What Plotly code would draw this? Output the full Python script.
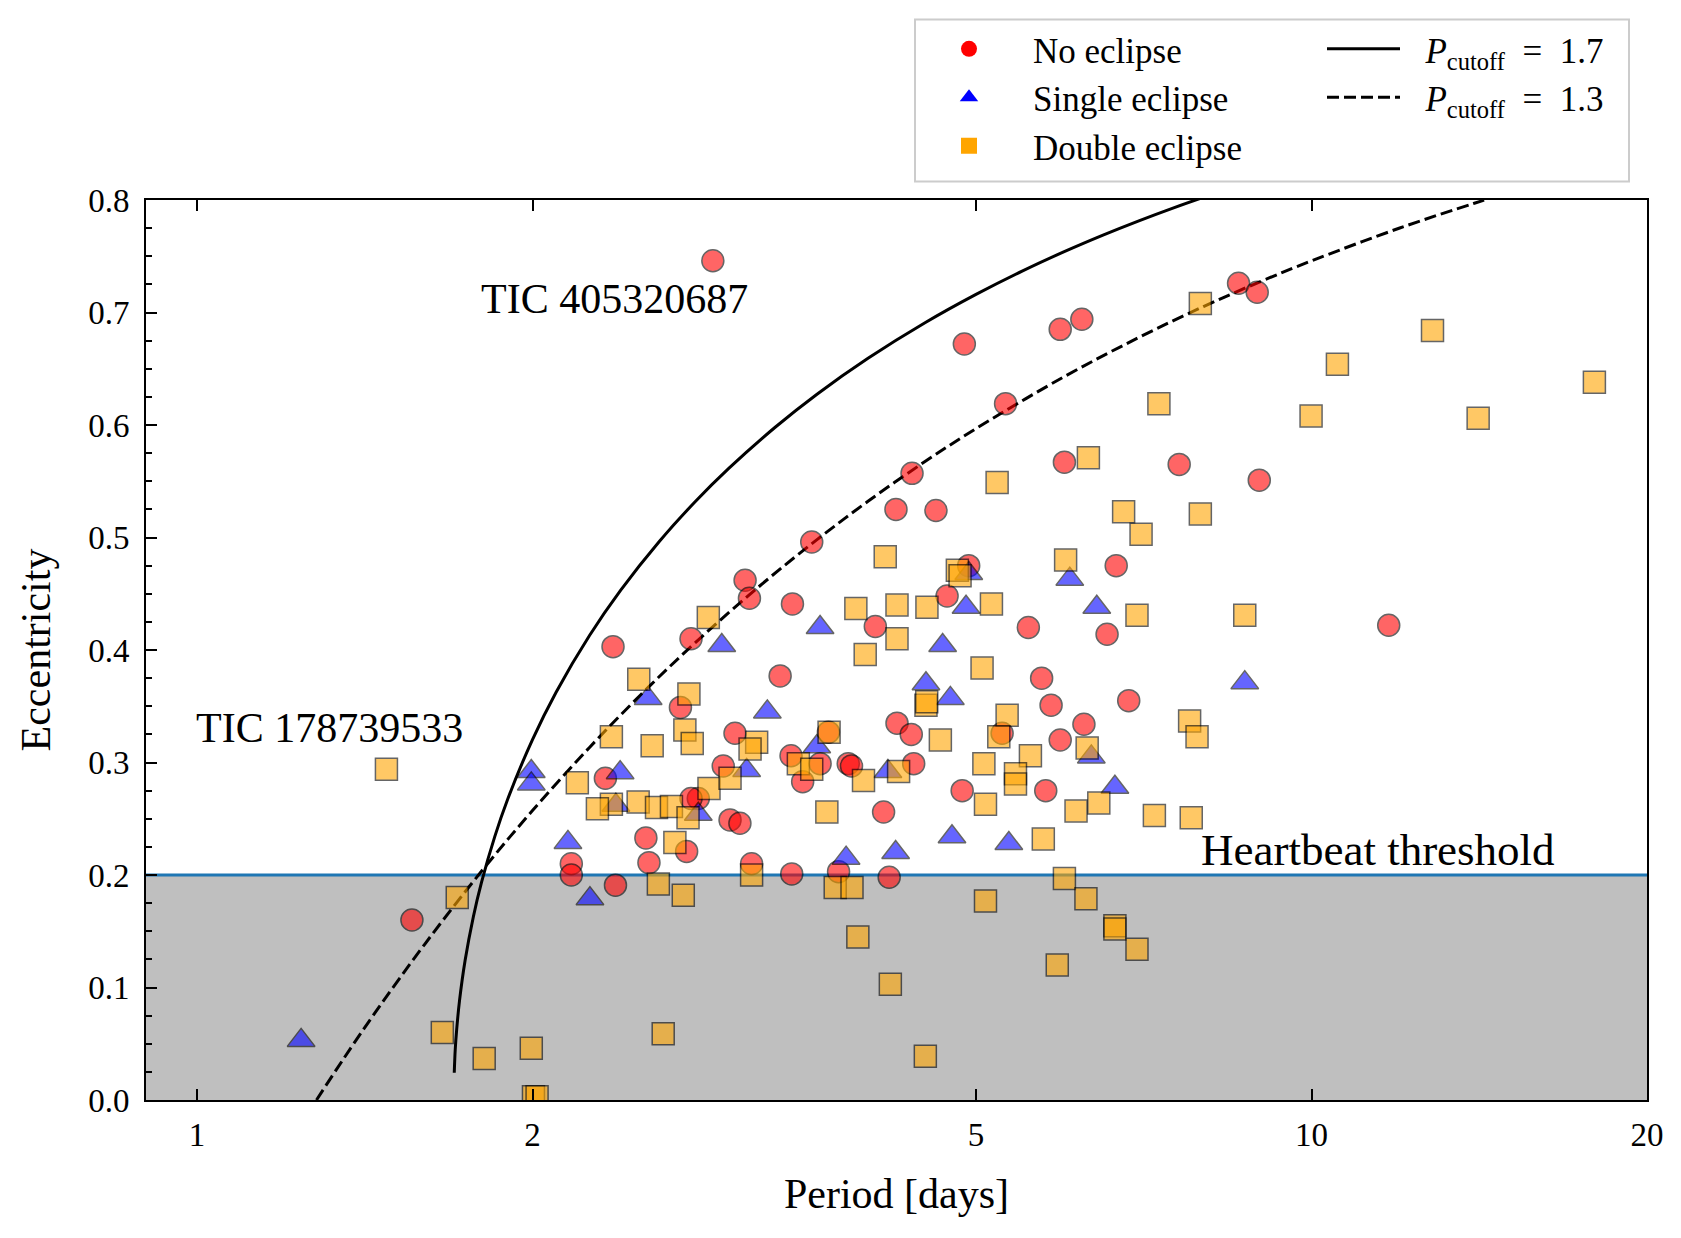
import math
import plotly.graph_objects as go

# ---------------- data ----------------
period_none = [2.903, 8.601, 8.939, 6.222, 5.950, 4.881, 5.315, 6.002, 7.608, 4.381,
               8.977, 4.238, 4.603, 3.561, 4.925, 6.680, 3.103, 3.131, 4.710, 3.422,
               4.061, 11.73, 5.571, 6.555, 2.775, 2.362, 3.336, 5.726, 5.839, 6.855,
               2.715, 6.249, 4.247, 3.039, 5.277, 4.374, 5.950, 3.686, 3.412, 3.623,
               3.840, 3.866, 4.396, 2.966, 2.325, 3.495, 2.817, 2.775, 5.775, 4.859,
               3.008, 3.070, 4.131, 2.528, 2.750, 2.544, 2.167, 2.167, 3.145, 3.417,
               3.764, 4.179, 2.374, 1.559]
ecc_none = [0.746, 0.726, 0.718, 0.694, 0.685, 0.672, 0.619, 0.567, 0.565, 0.557,
            0.551, 0.525, 0.524, 0.496, 0.475, 0.475, 0.462, 0.446, 0.448, 0.441,
            0.421, 0.422, 0.420, 0.414, 0.410, 0.403, 0.377, 0.375, 0.351, 0.355,
            0.349, 0.334, 0.335, 0.326, 0.326, 0.325, 0.320, 0.327, 0.306, 0.299,
            0.299, 0.297, 0.299, 0.297, 0.286, 0.283, 0.268, 0.268, 0.275, 0.275,
            0.249, 0.246, 0.256, 0.233, 0.221, 0.211, 0.210, 0.200, 0.210, 0.201,
            0.203, 0.198, 0.191, 0.160]

period_single = [1.240, 1.995, 1.995, 2.397, 2.376, 2.152, 2.252, 2.540, 2.957, 3.623,
                 3.249, 3.113, 3.598, 2.817, 4.168, 4.509, 4.742, 4.667, 4.898, 4.758,
                 5.351, 3.823, 4.235, 6.069, 6.417, 8.712, 6.345, 6.662, 4.926]
ecc_single = [0.053, 0.292, 0.281, 0.291, 0.262, 0.229, 0.179, 0.357, 0.404, 0.420,
              0.345, 0.293, 0.314, 0.254, 0.292, 0.370, 0.357, 0.404, 0.438, 0.234,
              0.228, 0.215, 0.220, 0.463, 0.438, 0.371, 0.305, 0.278, 0.468]

period_double = [7.948, 12.84, 10.55, 17.94, 7.296, 9.991, 14.11, 6.307, 5.223, 6.783,
                 7.948, 7.032, 6.017, 4.145, 4.811, 4.838, 2.876, 3.901, 4.247, 4.518,
                 5.162, 6.973, 8.712, 4.247, 3.977, 5.063, 2.491, 2.763, 4.509, 4.516,
                 5.332, 5.241, 4.645, 2.354, 2.561, 2.740, 2.782, 3.178, 3.135, 3.691,
                 3.464, 3.561, 3.963, 4.261, 5.082, 5.595, 5.425, 5.425, 5.099, 3.674,
                 5.746, 2.354, 2.488, 2.584, 2.665, 2.758, 2.880, 3.008, 2.684, 1.479,
                 2.194, 2.287, 1.712, 1.660, 1.810, 1.995, 2.004, 2.019, 2.620, 2.594,
                 2.731, 3.145, 3.738, 3.870, 5.099, 3.917, 5.914, 4.189, 4.503, 6.291,
                 7.774, 7.894, 6.148, 6.444, 7.228, 7.800, 6.002, 6.275, 6.662, 6.662,
                 6.973]
ecc_double = [0.708, 0.684, 0.654, 0.638, 0.619, 0.608, 0.606, 0.571, 0.549, 0.523,
              0.521, 0.503, 0.480, 0.483, 0.471, 0.466, 0.429, 0.437, 0.440, 0.438,
              0.441, 0.431, 0.431, 0.410, 0.396, 0.384, 0.374, 0.361, 0.351, 0.354,
              0.342, 0.323, 0.320, 0.323, 0.315, 0.329, 0.317, 0.318, 0.312, 0.327,
              0.299, 0.294, 0.284, 0.292, 0.299, 0.306, 0.290, 0.281, 0.263, 0.256,
              0.232, 0.263, 0.265, 0.260, 0.261, 0.251, 0.277, 0.286, 0.229, 0.294,
              0.282, 0.259, 0.180, 0.060, 0.037, 0.046, 0.003, 0.003, 0.059, 0.192,
              0.182, 0.200, 0.189, 0.189, 0.177, 0.145, 0.120, 0.103, 0.039, 0.313,
              0.337, 0.323, 0.257, 0.264, 0.253, 0.251, 0.197, 0.179, 0.155, 0.152,
              0.134]

# cutoff curves
cut17_period = [1.7015, 1.705, 1.71, 1.72, 1.74, 1.77, 1.8, 1.85, 1.9, 2.0, 2.1, 2.25,
                2.4, 2.6, 2.8, 3.0, 3.3, 3.6, 4.0, 4.5, 5.0, 5.5, 6.0, 6.5, 7.0, 7.5,
                8.0, 8.5]
cut17_ecc = [0.0242, 0.0451, 0.0625, 0.0881, 0.1240, 0.1629, 0.1934, 0.2341, 0.2673,
             0.3204, 0.3625, 0.4129, 0.4532, 0.4967, 0.5320, 0.5614, 0.5978, 0.6274,
             0.6593, 0.6909, 0.7161, 0.7368, 0.7541, 0.7688, 0.7815, 0.7926, 0.8024,
             0.8112]
cut13_period = [1.28, 1.35, 1.45, 1.6, 1.8, 2.0, 2.25, 2.5, 2.8, 3.2, 3.6, 4.0, 4.5,
                5.0, 6.0, 7.0, 8.0, 9.0, 10.0, 12.0, 14.0, 15.0]
cut13_ecc = [0.0, 0.0349, 0.0798, 0.1382, 0.2033, 0.2573, 0.3134, 0.3600, 0.4066,
             0.4571, 0.4981, 0.5322, 0.5675, 0.5968, 0.6430, 0.6778, 0.7053, 0.7275,
             0.7459, 0.7751, 0.7971, 0.8062]

heartbeat_threshold = 0.2

x_tick_vals = [1, 2, 5, 10, 20]
x_tick_text = ["1", "2", "5", "10", "20"]
y_tick_vals = [0.0, 0.1, 0.2, 0.3, 0.4, 0.5, 0.6, 0.7, 0.8]
y_tick_text = ["0.0", "0.1", "0.2", "0.3", "0.4", "0.5", "0.6", "0.7", "0.8"]

series_names = ["No eclipse", "Single eclipse", "Double eclipse"]
curve_names = ["<i>P</i><sub>cutoff</sub>\u2002=\u20021.7",
               "<i>P</i><sub>cutoff</sub>\u2002=\u20021.3"]

# ---------------- layout geometry ----------------
W, H = 1681, 1238
ML, MR, MT, MB = 146, 34, 199.5, 138
PW = W - ML - MR
PH = H - MT - MB


def px_x(X):
    return (X - ML) / PW


def px_y(Y):
    return (H - MB - Y) / PH


FONT = "Liberation Serif"
GAP = "\u2002\u200a"

fig = go.Figure()

# curves
fig.add_trace(go.Scatter(x=cut17_period, y=cut17_ecc, mode="lines",
                         line=dict(color="black", width=3, shape="spline"),
                         name=GAP + curve_names[0], legend="legend2"))
fig.add_trace(go.Scatter(x=cut13_period, y=cut13_ecc, mode="lines",
                         line=dict(color="black", width=3, dash="12px,5px", shape="spline"),
                         name=GAP + curve_names[1], legend="legend2"))

groups = [
    (period_none, ecc_none, "circle", "#ff0000", 22),
    (period_single, ecc_single, "triangle-up", "#0000ff", 24),
    (period_double, ecc_double, "square", "#ffa500", 22),
]
for (px, ey, sym, col, size), nm in zip(groups, series_names):
    fig.add_trace(go.Scatter(x=px, y=ey, mode="markers", showlegend=False, name=nm,
                             marker=dict(symbol=sym, color=col, size=size, opacity=0.6,
                                         line=dict(color="black", width=1.5))))
for (px, ey, sym, col, size), nm in zip(groups, series_names):
    fig.add_trace(go.Scatter(x=[None], y=[None], mode="markers", name=nm, legend="legend",
                             marker=dict(symbol=sym, color=col, size=16,
                                         line=dict(width=0))))

shapes = [
    dict(type="rect", xref="paper", yref="y", x0=0, x1=1, y0=0, y1=heartbeat_threshold,
         fillcolor="rgba(128,128,128,0.5)", line=dict(width=0), layer="below"),
    dict(type="line", xref="paper", yref="y", x0=0, x1=1, y0=heartbeat_threshold,
         y1=heartbeat_threshold, line=dict(color="#1f77b4", width=3), layer="below"),
    dict(type="rect", xref="paper", yref="paper", x0=px_x(915), x1=px_x(1629),
         y0=px_y(181), y1=px_y(19), line=dict(color="#cccccc", width=2),
         fillcolor="rgba(0,0,0,0)", layer="above"),
]

annotations = [
    dict(text="TIC 405320687", x=math.log10(1.791), y=0.712, xref="x", yref="y",
         showarrow=False, xanchor="left", yanchor="middle", font=dict(size=42)),
    dict(text="TIC 178739533", x=math.log10(0.994), y=0.331, xref="x", yref="y",
         showarrow=False, xanchor="left", yanchor="middle", font=dict(size=42)),
    dict(text="Heartbeat threshold", x=math.log10(7.93), y=0.222, xref="x", yref="y",
         showarrow=False, xanchor="left", yanchor="middle", font=dict(size=45)),
]

fig.update_layout(
    width=W, height=H,
    margin=dict(l=ML, r=MR, t=MT, b=MB, autoexpand=False),
    plot_bgcolor="white", paper_bgcolor="white",
    font=dict(family=FONT, color="black", size=33),
    shapes=shapes, annotations=annotations,
    legend=dict(x=px_x(905), y=px_y(19), xanchor="left", yanchor="top",
                bgcolor="rgba(0,0,0,0)", borderwidth=0, font=dict(size=35),
                itemwidth=118, tracegroupgap=0),
    legend2=dict(x=px_x(1322), y=px_y(19), xanchor="left", yanchor="top",
                 bgcolor="rgba(0,0,0,0)", borderwidth=0, font=dict(size=35),
                 itemwidth=73, tracegroupgap=0),
    xaxis=dict(type="log", range=[math.log10(0.9), math.log10(20)],
               tickmode="array", tickvals=x_tick_vals, ticktext=x_tick_text,
               ticks="inside", ticklen=11, tickwidth=1.5, tickcolor="black",
               showline=True, linecolor="black", linewidth=2, mirror="ticks",
               showgrid=False, zeroline=False, tickfont=dict(family=FONT, size=33),
               ticklabelstandoff=4,
               title=dict(text="Period [days]", font=dict(family=FONT, size=42), standoff=27)),
    yaxis=dict(range=[0, 0.8], tickmode="array", tickvals=y_tick_vals, ticktext=y_tick_text,
               ticks="inside", ticklen=11, tickwidth=1.5, tickcolor="black",
               minor=dict(tick0=0, dtick=0.025, ticks="inside", ticklen=6, tickwidth=1.5,
                          tickcolor="black", showgrid=False),
               showline=True, linecolor="black", linewidth=2, mirror=True,
               showgrid=False, zeroline=False, tickfont=dict(family=FONT, size=33),
               ticklabelstandoff=8,
               title=dict(text="Eccentricity", font=dict(family=FONT, size=42), standoff=24)),
)

fig.write_html("out.html", config={"displayModeBar": False},
               post_script="document.body.style.margin='0px';")
